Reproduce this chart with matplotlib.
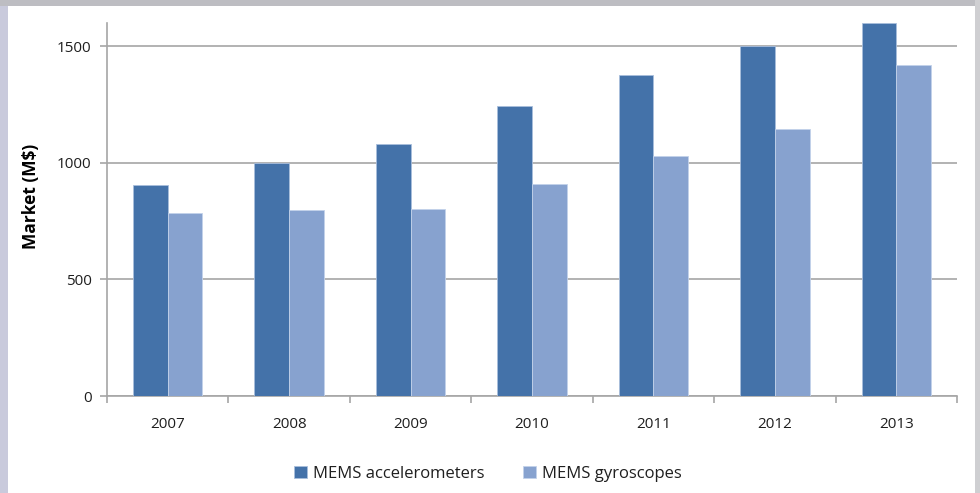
import matplotlib

matplotlib.use("Agg")
import matplotlib.pyplot as plt
import numpy as np
from matplotlib.patches import Rectangle

years = ["2007", "2008", "2009", "2010", "2011", "2012", "2013"]
accelerometers = [905, 1000, 1080, 1245, 1375, 1500, 1600]
gyroscopes = [784, 797, 803, 911, 1029, 1145, 1420]
series_names = ["MEMS accelerometers", "MEMS gyroscopes"]
yticks = [0, 500, 1000, 1500]

ACC_COLOR = "#4472A9"
GYR_COLOR = "#87A2CF"
GRID = "#A6A6A6"
TEXT = "#1F1F1F"

plt.rcParams["font.family"] = ["Open Sans", "DejaVu Sans"]

fig = plt.figure(figsize=(9.8, 4.93), dpi=100)
fig.patch.set_facecolor("#C9CADC")
# top and right frame strips, then the white chart area (behind the axes)
fig.patches.append(Rectangle((0, 1 - 6 / 493), 1, 6 / 493, transform=fig.transFigure,
                             facecolor="#BDBDC2", edgecolor="none", zorder=-5))
fig.patches.append(Rectangle((975 / 980, 0), 5 / 980, 1, transform=fig.transFigure,
                             facecolor="#CFCFD2", edgecolor="none", zorder=-5))
fig.patches.append(Rectangle((8 / 980, 0), 967 / 980, 1 - 6 / 493, transform=fig.transFigure,
                             facecolor="white", edgecolor="none", zorder=-5))

ax = fig.add_axes([107 / 980, 1 - 396 / 493, 850 / 980, 373 / 493])
ax.set_facecolor("none")

x = np.arange(len(years))
w = 1 / 3.5
ax.bar(x - w / 2, accelerometers, w, color=ACC_COLOR, edgecolor="#A9BEDC",
       linewidth=0.6, label=series_names[0], zorder=3)
ax.bar(x + w / 2, gyroscopes, w, color=GYR_COLOR, edgecolor="#C3D2EA",
       linewidth=0.6, label=series_names[1], zorder=3)

ax.set_xlim(-0.5, len(years) - 0.5)
ax.set_ylim(0, 1600)
ax.set_yticks(yticks)
ax.set_yticklabels([str(v) for v in yticks], fontsize=11, color=TEXT)
ax.yaxis.grid(True, color=GRID, linewidth=1.2, zorder=1)
ax.set_axisbelow(True)

ax.set_xticks(x)
ax.set_xticklabels(years, fontsize=11, color=TEXT)
ax.tick_params(axis="x", length=0, pad=15)
ax.set_xticks(np.arange(-0.5, len(years)), minor=True)
ax.tick_params(axis="x", which="minor", length=5, color=GRID, width=1.2)
ax.tick_params(axis="y", length=5, color=GRID, width=1.2, pad=6)

for side in ("top", "right"):
    ax.spines[side].set_visible(False)
for side in ("left", "bottom"):
    ax.spines[side].set_color(GRID)
    ax.spines[side].set_linewidth(1.2)

ax.set_ylabel("Market (M$)", fontsize=12.5, fontweight="bold", color="black")
ax.yaxis.set_label_coords((40 - 107) / 850, (396 - 196) / 373)

ax.legend(loc="center", bbox_to_anchor=(488 / 980, 1 - 474 / 493),
          bbox_transform=fig.transFigure, ncol=2, frameon=False, fontsize=12,
          handlelength=0.75, handleheight=0.75, columnspacing=2.3, handletextpad=0.4,
          labelcolor=TEXT)

fig.savefig("out.png", dpi=100, facecolor=fig.get_facecolor())
